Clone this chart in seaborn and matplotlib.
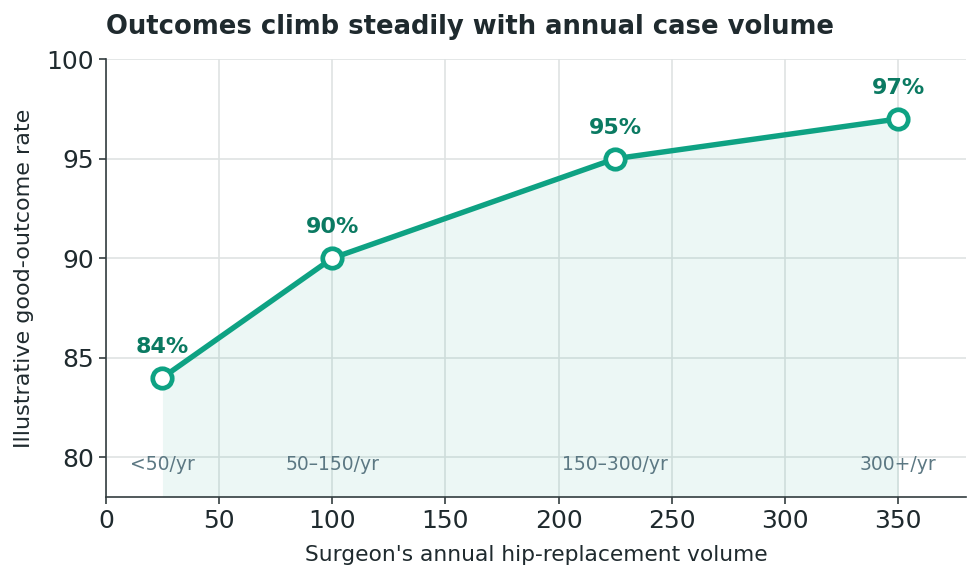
import matplotlib
matplotlib.use("Agg")
import matplotlib.pyplot as plt
import seaborn as sns
import pandas as pd

volume = [25, 100, 225, 350]
rate = [84, 90, 95, 97]
rate_labels = ["84%", "90%", "95%", "97%"]
buckets = ["<50/yr", "50–150/yr", "150–300/yr", "300+/yr"]

df = pd.DataFrame({"volume": volume, "rate": rate})

sns.set_theme(style="whitegrid")
plt.rcParams['font.family'] = ['DejaVu Sans']

LINE = "#0ea283"
LABEL = "#0b7a62"
DARK = "#1f2a2e"

fig = plt.figure(figsize=(9.8, 5.8), dpi=100)
ax = fig.add_axes([0.108, 0.143, 0.878, 0.755])

ax.fill_between(volume, rate, 78, color=LINE, alpha=0.08, linewidth=0, zorder=1)
sns.lineplot(data=df, x="volume", y="rate", ax=ax, color=LINE, linewidth=3.9,
             marker="o", markersize=14, markerfacecolor="white",
             markeredgecolor=LINE, markeredgewidth=3.4, zorder=3)

for x, y, t in zip(volume, rate, rate_labels):
    ax.annotate(t, (x, y), xytext=(0, 15), textcoords="offset points",
                ha="center", va="bottom", fontsize=16, fontweight="bold", color=LABEL)
for x, b in zip(volume, buckets):
    ax.text(x, 79.65, b, ha="center", va="center", fontsize=13.5, color="#5c7883")

ax.set_xlim(0, 380)
ax.set_ylim(78, 100)
ax.set_xticks([0, 50, 100, 150, 200, 250, 300, 350])
ax.set_yticks([80, 85, 90, 95, 100])
ax.grid(True, color="#dfe3e3", linewidth=1.2)
ax.set_axisbelow(True)
for s in ["top", "right"]:
    ax.spines[s].set_visible(False)
for s in ["left", "bottom"]:
    ax.spines[s].set_color("#333d40")
    ax.spines[s].set_linewidth(1.2)
ax.tick_params(axis="both", which="both", length=5, width=1.2, color="#333d40",
               labelsize=18, labelcolor=DARK, bottom=True, left=True)
ax.set_xlabel("Surgeon's annual hip-replacement volume", fontsize=15.7, color=DARK, labelpad=9)
ax.set_ylabel("Illustrative good-outcome rate", fontsize=16, color=DARK, labelpad=9)
ax.set_title("Outcomes climb steadily with annual case volume", loc="left",
             fontsize=18.6, fontweight="bold", color=DARK, pad=18)

fig.savefig("out.png", dpi=100)
